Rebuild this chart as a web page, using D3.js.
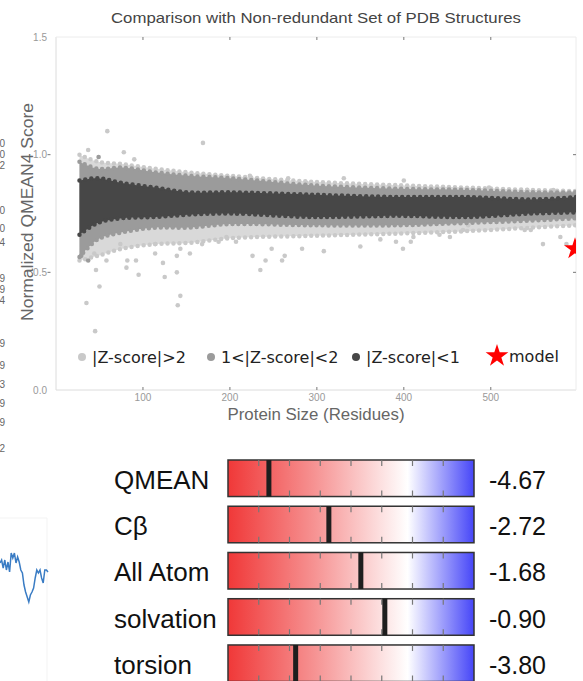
<!DOCTYPE html>
<html>
<head>
<meta charset="utf-8">
<script src="https://cdn.jsdelivr.net/npm/d3@7"></script>
<style>
  body { margin: 0; background: #fff; }
  svg { display: block; }
</style>
</head>
<body>
<div id="chart"></div>
<script>
// ---- reference set: envelopes of the three z-score groups
const bandSizes = [27, 48, 76, 114, 152, 200, 294, 395, 472, 548, 598];
const z1Upper = [0.89, 0.90, 0.88, 0.86, 0.84, 0.84, 0.83, 0.82, 0.82, 0.81, 0.82];
const z1Lower = [0.66, 0.71, 0.73, 0.735, 0.745, 0.75, 0.735, 0.74, 0.735, 0.75, 0.755];
const z2Upper = [0.97, 0.94, 0.945, 0.925, 0.91, 0.90, 0.87, 0.855, 0.85, 0.84, 0.84];
const z2Lower = [0.565, 0.64, 0.67, 0.69, 0.69, 0.705, 0.70, 0.70, 0.71, 0.72, 0.73];
const z3Upper = [1.00, 0.97, 0.96, 0.94, 0.925, 0.91, 0.885, 0.87, 0.86, 0.85, 0.845];
const z3Lower = [0.55, 0.57, 0.60, 0.62, 0.625, 0.645, 0.655, 0.665, 0.675, 0.69, 0.70];

// sparse outliers outside the bands
const outlierSize = [59, 169, 37, 78, 90, 46, 50, 35, 45, 143, 140, 95, 125, 139, 82, 81, 92, 114, 123, 143,
  154, 58, 44, 139, 168, 187, 74, 114, 226, 241, 235, 260, 263, 283, 308, 350, 373, 207, 248, 223,
  267, 331, 288, 391, 196, 400, 498, 542, 572, 399, 411, 408, 441, 453, 468, 474, 539, 546, 560, 580, 587,
  49, 29, 37];
const outlierScore = [1.10, 1.05, 1.02, 1.01, 0.98, 0.51, 0.44, 0.37, 0.25, 0.40, 0.36, 0.49, 0.48, 0.50, 0.55, 0.52, 0.55, 0.58, 0.54, 0.60,
  0.58, 0.55, 0.58, 0.57, 0.62, 0.63, 0.62, 0.62, 0.57, 0.55, 0.51, 0.55, 0.57, 0.60, 0.59, 0.61, 0.64, 0.63, 0.60, 0.91,
  0.90, 0.90, 0.88, 0.63, 0.65, 0.89, 0.86, 0.85, 0.85, 0.60, 0.65, 0.63, 0.66, 0.65, 0.68, 0.70, 0.68, 0.68, 0.62, 0.65, 0.62,
  0.99, 0.57, 0.55];
const outlierGroup = outlierSize.map((d, i) => i >= 61 ? 'z2' : 'z3');

const modelSize = [598];
const modelScore = [0.60];

const legendLabels = ['|Z-score|>2', '1<|Z-score|<2', '|Z-score|<1'];
const xTicks = [100, 200, 300, 400, 500];
const yTicks = [0, 0.5, 1.0, 1.5];

// ---- local quality gauges
const gaugeNames = ['QMEAN', 'C\u03b2', 'All Atom', 'solvation', 'torsion'];
const gaugeScores = [-4.67, -2.72, -1.68, -0.90, -3.80];
const gaugeTicks = [-5, -4, -3, -2, -1, 0, 1];

// ---- clipped bits of neighbouring panels in the screenshot
const sideDigits = ['0', '0', '2', '0', '0', '4', '9', '9', '4', '9', '9', '3', '9', '9', '2'];
const sideDigitRows = [143, 154, 165, 210, 228, 242, 278, 289, 300, 343, 365, 384, 403, 422, 448];
const traceValues = [43, 40, 48, 40, 50, 42, 52, 33, 38, 33, 43, 37, 42, 50, 53, 65, 72, 77, 82, 75,
  72, 68, 58, 50, 53, 50, 58, 63, 50, 50, 52];

const colors = { z3: '#c9c9c9', z2: '#9b9b9b', z1: '#474747' };

const W = 583, H = 681;
const svg = d3.select('#chart').append('svg')
  .attr('width', W)
  .attr('height', H)
  .style('font-family', '"Liberation Sans", Arial, sans-serif');
const defs = svg.append('defs');

// faint panel frames from the screenshot
const frames = [[0, 518, 47, 518], [47, 518, 47, 681]];
svg.selectAll('line.frame').data(frames).enter().append('line')
  .attr('class', 'frame')
  .attr('x1', d => d[0]).attr('y1', d => d[1])
  .attr('x2', d => d[2]).attr('y2', d => d[3])
  .attr('stroke', '#f3f3f3');

svg.selectAll('text.side').data(sideDigits).enter().append('text')
  .attr('class', 'side')
  .attr('x', 5)
  .attr('y', (d, i) => sideDigitRows[i] + 3.5)
  .attr('text-anchor', 'end')
  .attr('font-size', 10)
  .attr('fill', '#666')
  .text(d => d);

const tx = d3.scaleLinear().domain([0, traceValues.length - 1]).range([0, 48]);
const ty = d3.scaleLinear().domain([0, 100]).range([520, 620]);
svg.append('path')
  .datum(traceValues)
  .attr('fill', 'none')
  .attr('stroke', '#3a7cc4')
  .attr('stroke-width', 1.5)
  .attr('d', d3.line().x((d, i) => tx(i)).y(d => ty(d)));

// ---------------- scatter panel ----------------
const x = d3.scaleLinear().domain([0, 598]).range([56, 576]);
const y = d3.scaleLinear().domain([0, 1.5]).range([390, 37]);

svg.append('text')
  .attr('x', 316).attr('y', 23)
  .attr('text-anchor', 'middle')
  .attr('font-size', 14.5)
  .attr('textLength', 410).attr('lengthAdjust', 'spacingAndGlyphs')
  .attr('fill', '#444')
  .text('Comparison with Non-redundant Set of PDB Structures');

defs.append('clipPath').attr('id', 'plotClip')
  .append('rect')
  .attr('x', x(0)).attr('y', y(1.5))
  .attr('width', x(598) - x(0)).attr('height', y(0) - y(1.5));

// frame
svg.append('line').attr('x1', x(0)).attr('x2', x(0)).attr('y1', y(1.5)).attr('y2', y(0)).attr('stroke', '#dcdcdc');
svg.append('line').attr('x1', x(0)).attr('x2', x(598)).attr('y1', y(0)).attr('y2', y(0)).attr('stroke', '#dcdcdc');
svg.append('line').attr('x1', x(0)).attr('x2', x(598)).attr('y1', y(1.5)).attr('y2', y(1.5)).attr('stroke', '#ececec');
svg.append('line').attr('x1', x(598)).attr('x2', x(598)).attr('y1', y(1.5)).attr('y2', y(0)).attr('stroke', '#ececec');

const plot = svg.append('g').attr('clip-path', 'url(#plotClip)');

function drawBand(upper, lower, color, opacity) {
  const rows = bandSizes.map((s, i) => ({ s, hi: upper[i], lo: lower[i] }));
  plot.append('path')
    .datum(rows)
    .attr('fill', color)
    .attr('fill-opacity', opacity)
    .attr('d', d3.area().curve(d3.curveCatmullRom)
      .x(d => x(d.s)).y0(d => y(d.lo)).y1(d => y(d.hi)));
  [d => d.hi, d => d.lo].forEach(acc => {
    plot.append('path')
      .datum(rows)
      .attr('fill', 'none')
      .attr('stroke', color)
      .attr('stroke-width', 4.5)
      .attr('stroke-linecap', 'round')
      .attr('stroke-dasharray', '0,6')
      .attr('d', d3.line().curve(d3.curveCatmullRom).x(d => x(d.s)).y(d => y(acc(d))));
  });
}

drawBand(z3Upper, z3Lower, colors.z3, 0.7);
plot.selectAll('circle.out').data(outlierSize).enter().append('circle')
  .attr('class', 'out')
  .attr('cx', d => x(d))
  .attr('cy', (d, i) => y(outlierScore[i]))
  .attr('r', 2.3)
  .attr('fill', (d, i) => colors[outlierGroup[i]]);
drawBand(z2Upper, z2Lower, colors.z2, 1);
drawBand(z1Upper, z1Lower, colors.z1, 1);

plot.selectAll('path.model').data(modelSize).enter().append('path')
  .attr('class', 'model')
  .attr('transform', (d, i) => `translate(${x(d) - 1},${y(modelScore[i])})`)
  .attr('d', d3.symbol(d3.symbolStar, 150))
  .attr('fill', '#ff0000');

// ticks
const tickColor = '#777';
svg.selectAll('text.xt').data(xTicks).enter().append('text')
  .attr('class', 'xt')
  .attr('x', d => x(d)).attr('y', 401)
  .attr('text-anchor', 'middle').attr('font-size', 10).attr('fill', '#999')
  .text(d => d);
svg.selectAll('line.xb').data(xTicks).enter().append('line')
  .attr('class', 'xb')
  .attr('x1', d => x(d)).attr('x2', d => x(d))
  .attr('y1', y(0) - 3).attr('y2', y(0)).attr('stroke', tickColor);
svg.selectAll('line.xtop').data(xTicks).enter().append('line')
  .attr('class', 'xtop')
  .attr('x1', d => x(d)).attr('x2', d => x(d))
  .attr('y1', y(1.5)).attr('y2', y(1.5) + 3).attr('stroke', tickColor);
svg.selectAll('text.yt').data(yTicks).enter().append('text')
  .attr('class', 'yt')
  .attr('x', 47).attr('y', d => y(d) + 3.5)
  .attr('text-anchor', 'end').attr('font-size', 10).attr('fill', '#999')
  .text(d => d3.format('.1f')(d));
svg.selectAll('line.yl').data(yTicks.filter(d => d > 0 && d < 1.5)).enter().append('line')
  .attr('class', 'yl')
  .attr('x1', 47.5).attr('x2', 50.5)
  .attr('y1', d => y(d)).attr('y2', d => y(d)).attr('stroke', tickColor);
svg.selectAll('line.yr').data(yTicks.filter(d => d > 0 && d < 1.5)).enter().append('line')
  .attr('class', 'yr')
  .attr('x1', x(598) - 3).attr('x2', x(598))
  .attr('y1', d => y(d)).attr('y2', d => y(d)).attr('stroke', tickColor);

svg.append('text')
  .attr('x', 316).attr('y', 420)
  .attr('text-anchor', 'middle').attr('font-size', 16)
  .attr('textLength', 177).attr('lengthAdjust', 'spacingAndGlyphs')
  .attr('fill', '#666')
  .text('Protein Size (Residues)');
svg.append('text')
  .attr('transform', 'translate(33,212) rotate(-90)')
  .attr('text-anchor', 'middle').attr('font-size', 16)
  .attr('textLength', 218).attr('lengthAdjust', 'spacingAndGlyphs')
  .attr('fill', '#666')
  .text('Normalized QMEAN4 Score');

// legend
const legendX = [82, 211, 356];
const legendColors = [colors.z3, colors.z2, colors.z1];
const legend = svg.append('g').style('font-family', '"DejaVu Sans", sans-serif');
legend.selectAll('circle').data(legendLabels).enter().append('circle')
  .attr('cx', (d, i) => legendX[i]).attr('cy', 357).attr('r', 4)
  .attr('fill', (d, i) => legendColors[i]);
legend.selectAll('text.lg').data(legendLabels).enter().append('text')
  .attr('class', 'lg')
  .attr('x', (d, i) => legendX[i] + 10).attr('y', 363)
  .attr('font-size', 16).attr('fill', '#222')
  .text(d => d);
legend.append('path')
  .attr('transform', 'translate(497,356)')
  .attr('d', d3.symbol(d3.symbolStar, 160))
  .attr('fill', '#ff0000');
legend.append('text')
  .attr('x', 509).attr('y', 362)
  .attr('font-size', 16).attr('fill', '#222')
  .text('model');

// ---------------- gauge panel ----------------
const gx = d3.scaleLinear().domain([-6, 2]).range([228, 474]);
const gy = d3.scaleBand().domain(gaugeNames).range([460, 681.5]).paddingInner(0.21).paddingOuter(0);

const grad = defs.append('linearGradient')
  .attr('id', 'zGrad').attr('x1', '0%').attr('x2', '100%');
[[0, '#f03838'], [0.35, '#f69292'], [0.73, '#ffffff'], [1, '#4646f8']].forEach(([o, c]) => {
  grad.append('stop').attr('offset', o).attr('stop-color', c);
});

const rows = svg.selectAll('g.gauge').data(gaugeNames).enter().append('g')
  .attr('class', 'gauge')
  .attr('transform', d => `translate(0,${gy(d)})`);

rows.append('rect')
  .attr('x', gx(-6)).attr('y', 0)
  .attr('width', gx(2) - gx(-6)).attr('height', gy.bandwidth())
  .attr('fill', 'url(#zGrad)')
  .attr('stroke', '#333').attr('stroke-width', 1.5);

gaugeTicks.forEach(t => {
  rows.append('line')
    .attr('x1', gx(t)).attr('x2', gx(t)).attr('y1', 0).attr('y2', 6)
    .attr('stroke', '#777').attr('stroke-width', 1.2);
  rows.append('line')
    .attr('x1', gx(t)).attr('x2', gx(t)).attr('y1', gy.bandwidth() - 6).attr('y2', gy.bandwidth())
    .attr('stroke', '#777').attr('stroke-width', 1.2);
});

rows.append('rect')
  .attr('x', (d, i) => gx(gaugeScores[i]) - 2.5).attr('y', 0)
  .attr('width', 5).attr('height', gy.bandwidth())
  .attr('fill', '#1e1e1e');

rows.append('text')
  .attr('x', 114).attr('y', 29)
  .attr('font-size', 26).attr('fill', '#111')
  .text(d => d);

// plain hyphen for the sign, as in the original
rows.append('text')
  .attr('x', 489).attr('y', 29)
  .attr('font-size', 25).attr('fill', '#111')
  .text((d, i) => d3.format('.2f')(gaugeScores[i]).replace('\u2212', '-'));
</script>
</body>
</html>
